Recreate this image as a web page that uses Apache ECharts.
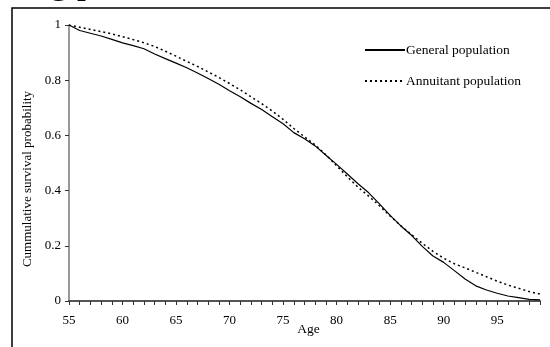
<!DOCTYPE html>
<html>
<head>
<meta charset="utf-8">
<style>
  html, body { margin: 0; padding: 0; background: #fff; }
  #chart { width: 550px; height: 347px; }
</style>
<script src="https://cdn.jsdelivr.net/npm/echarts@6/dist/echarts.min.js"></script>
</head>
<body>
<div id="chart"></div>
<script>
// ages 55..99
var ages = []
for (var a = 55; a <= 99; a++) ages.push(String(a))

var generalPop = [
  1.0, 0.98, 0.97, 0.96, 0.948, 0.935, 0.925, 0.914, 0.895, 0.878,
  0.862, 0.845, 0.826, 0.806, 0.785, 0.762, 0.74, 0.716, 0.694, 0.668,
  0.642, 0.61, 0.588, 0.562, 0.528, 0.495, 0.46, 0.425, 0.392, 0.352,
  0.31, 0.272, 0.238, 0.198, 0.163, 0.14, 0.11, 0.08, 0.055, 0.04,
  0.028, 0.018, 0.012, 0.006, 0.004
]
var annuitantPop = [
  1.0, 0.992, 0.984, 0.976, 0.968, 0.958, 0.947, 0.936, 0.922, 0.905,
  0.887, 0.868, 0.85, 0.83, 0.81, 0.788, 0.765, 0.74, 0.715, 0.688,
  0.658, 0.625, 0.595, 0.565, 0.53, 0.49, 0.45, 0.412, 0.38, 0.345,
  0.308, 0.273, 0.24, 0.209, 0.18, 0.155, 0.135, 0.12, 0.104, 0.088,
  0.072, 0.058, 0.046, 0.034, 0.025
]
var seriesNames = ['General population', 'Annuitant population']

var fontFamily = '"Liberation Serif", "DejaVu Serif", serif'
var chart = echarts.init(document.getElementById('chart'))

var option = {
  animation: false,
  backgroundColor: '#fff',
  textStyle: { fontFamily: fontFamily, color: '#000' },
  grid: { left: 69, right: 10, top: 25, bottom: 46, outerBoundsMode: 'none' },
  legend: {
    orient: 'vertical',
    left: 359,
    top: 38,
    itemWidth: 40,
    itemHeight: 10,
    itemGap: 17,
    itemStyle: { opacity: 0 },
    textStyle: { fontFamily: fontFamily, fontSize: 13.5, color: '#000', padding: [0, 0, 0, -4] },
    data: seriesNames
  },
  xAxis: {
    type: 'category',
    data: ages,
    boundaryGap: false,
    name: 'Age',
    nameLocation: 'middle',
    nameGap: 21,
    nameMoveOverlap: false,
    nameTextStyle: { fontFamily: fontFamily, fontSize: 13.5, color: '#000', padding: [0, 0, 0, 8] },
    axisLine: { lineStyle: { color: '#555', width: 2 } },
    axisTick: { show: true, interval: 0, length: 4, lineStyle: { color: '#333', width: 1 } },
    axisLabel: { interval: 4, margin: 13, fontSize: 13, color: '#000', fontFamily: fontFamily },
    splitLine: { show: false }
  },
  yAxis: {
    type: 'value',
    min: 0,
    max: 1,
    interval: 0.2,
    name: 'Cummulative survival probability',
    nameLocation: 'middle',
    nameGap: 34,
    nameTextStyle: { fontFamily: fontFamily, fontSize: 13, color: '#000', padding: [0, 32, 0, 0] },
    axisLine: { show: true, lineStyle: { color: '#777', width: 1.5 } },
    axisTick: { show: true, length: 4, lineStyle: { color: '#333', width: 1 } },
    axisLabel: { margin: 8, fontSize: 13, color: '#000', fontFamily: fontFamily },
    splitLine: { show: false }
  },
  graphic: [
    {
      type: 'rect',
      shape: { x: 12, y: 8, width: 600, height: 400 },
      style: { fill: 'none', stroke: '#000', lineWidth: 1.5 },
      silent: true
    },
    {
      // bottom edge of a heading that is cut off above the frame
      type: 'text',
      x: 50,
      y: -34,
      style: { text: 'g p', font: '36px "Liberation Serif", serif', fill: '#000' },
      silent: true
    }
  ],
  series: [
    {
      name: seriesNames[0],
      type: 'line',
      data: generalPop,
      symbol: 'none',
      smooth: false,
      lineStyle: { color: '#000', width: 1.2, type: 'solid' },
      itemStyle: { color: '#000' }
    },
    {
      name: seriesNames[1],
      type: 'line',
      data: annuitantPop,
      symbol: 'none',
      smooth: false,
      lineStyle: { color: '#000', width: 1.5, type: [2, 3] },
      itemStyle: { color: '#000' }
    }
  ]
}
chart.setOption(option)
</script>
</body>
</html>
